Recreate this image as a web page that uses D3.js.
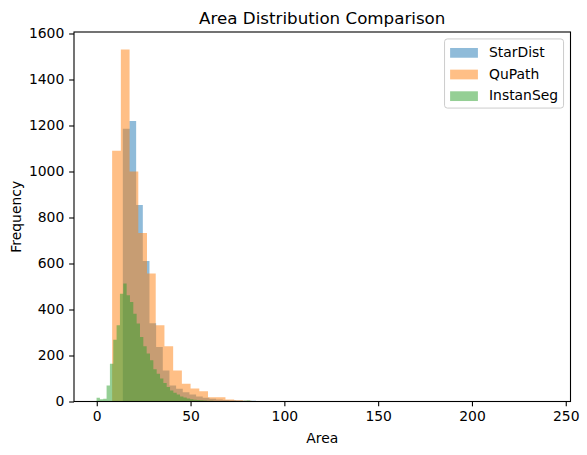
<!DOCTYPE html>
<html>
<head>
<meta charset="utf-8">
<script src="https://cdn.jsdelivr.net/npm/d3@7"></script>
<style>
  body { margin: 0; background: #fff; }
  svg { font-family: "DejaVu Sans", sans-serif; }
</style>
</head>
<body>
<svg width="587" height="455"></svg>
<script>
// series names, in the order they were drawn
let seriesNames = ["StarDist", "QuPath", "InstanSeg"];

// [min, max] of the area values for each series (50 bins each)
let starDistRange = [13.9, 191.4];
let quPathRange = [8.2, 240.5];
let instanSegRange = [-0.1, 88.9];

// bin counts
let starDistCounts = [
  1186, 1220, 854, 611, 340, 237, 135, 70, 55, 40,
  30, 22, 16, 12, 9, 7, 5, 4, 3, 3,
  2, 2, 1, 1, 1, 1, 0, 1, 0, 0,
  1, 1, 0, 1, 0, 0, 0, 0, 0, 0,
  0, 0, 0, 0, 0, 0, 0, 1, 0, 1
];
let quPathCounts = [
  1090, 1530, 1000, 733, 557, 331, 240, 135, 77, 57,
  45, 18, 18, 9, 5, 3, 2, 2, 1, 1,
  1, 1, 2, 2, 1, 0, 0, 1, 0, 1,
  1, 0, 0, 1, 0, 0, 0, 0, 0, 0,
  0, 0, 0, 1, 0, 1, 0, 0, 0, 1
];
let instanSegCounts = [
  16, 10, 12, 70, 164, 269, 331, 469, 513, 462,
  433, 382, 339, 280, 240, 209, 179, 140, 121, 100,
  80, 63, 48, 38, 30, 22, 17, 13, 10, 8,
  6, 5, 4, 3, 3, 2, 2, 2, 1, 1,
  1, 1, 1, 2, 3, 4, 2, 1, 0, 1
];

let xTicks = [0, 50, 100, 150, 200, 250];
let yTicks = [0, 200, 400, 600, 800, 1000, 1200, 1400, 1600];

let colors = ["#1f77b4", "#ff7f0e", "#2ca02c"];

let series = [
  { name: seriesNames[0], range: starDistRange, counts: starDistCounts },
  { name: seriesNames[1], range: quPathRange, counts: quPathCounts },
  { name: seriesNames[2], range: instanSegRange, counts: instanSegCounts }
];

// turn each range + counts into step points like plt.hist bins
series.forEach(function(s) {
  let n = s.counts.length;
  let step = (s.range[1] - s.range[0]) / n;
  s.steps = s.counts.map(function(c, i) {
    return { x: s.range[0] + i * step, count: c };
  });
  // closing point at the right edge of the last bin
  s.steps.push({ x: s.range[1], count: s.counts[n - 1] });
});

let svg = d3.select("svg");

let margin = { top: 32, left: 74 };
let plotWidth = 496.5;
let plotHeight = 369.5;

// matplotlib style 5% padding on x, 5% headroom on y
let xMin = d3.min(series, function(s) { return s.range[0]; });
let xMax = d3.max(series, function(s) { return s.range[1]; });
let xPad = (xMax - xMin) * 0.05;
let yMax = d3.max(series, function(s) { return d3.max(s.counts); }) * 1.05;

let xScale = d3.scaleLinear()
  .domain([xMin - xPad, xMax + xPad])
  .range([0, plotWidth]);

let yScale = d3.scaleLinear()
  .domain([0, yMax])
  .range([plotHeight, 0]);

let plot = svg.append("g")
  .attr("transform", "translate(" + margin.left + "," + margin.top + ")");

// one filled step shape per series, so adjacent bars have no seams
let area = d3.area()
  .curve(d3.curveStepAfter)
  .x(function(d) { return xScale(d.x); })
  .y0(plotHeight)
  .y1(function(d) { return yScale(d.count); });

plot.selectAll("path.hist")
  .data(series)
  .enter().append("path")
  .attr("class", "hist")
  .attr("d", function(d) { return area(d.steps); })
  .attr("fill", function(d, i) { return colors[i]; })
  .attr("fill-opacity", 0.5);

// axes
let tickLen = 4.86;
let xAxis = d3.axisBottom(xScale)
  .tickValues(xTicks)
  .tickSize(tickLen)
  .tickSizeOuter(0)
  .tickPadding(4.86)
  .tickFormat(d3.format("d"));
let yAxis = d3.axisLeft(yScale)
  .tickValues(yTicks)
  .tickSize(tickLen)
  .tickSizeOuter(0)
  .tickPadding(4.86)
  .tickFormat(d3.format("d"));

let xGroup = plot.append("g")
  .attr("transform", "translate(0," + plotHeight + ")")
  .call(xAxis);
let yGroup = plot.append("g").call(yAxis);

[xGroup, yGroup].forEach(function(g) {
  g.select(".domain").remove();
  g.selectAll(".tick line").attr("stroke", "#000").attr("stroke-width", 1.1);
  g.selectAll(".tick text")
    .attr("fill", "#000")
    .style("font-family", "DejaVu Sans")
    .style("font-size", "13.9px");
});

// spines
plot.append("rect")
  .attr("width", plotWidth)
  .attr("height", plotHeight)
  .attr("fill", "none")
  .attr("stroke", "#000")
  .attr("stroke-width", 1.1);

// title and labels
svg.append("text")
  .attr("x", margin.left + plotWidth / 2)
  .attr("y", margin.top - 8.3)
  .attr("text-anchor", "middle")
  .style("font-size", "16.7px")
  .text("Area Distribution Comparison");

svg.append("text")
  .attr("x", margin.left + plotWidth / 2)
  .attr("y", 443)
  .attr("text-anchor", "middle")
  .style("font-size", "13.9px")
  .text("Area");

svg.append("text")
  .attr("transform", "translate(21," + (margin.top + plotHeight / 2) + ") rotate(-90)")
  .attr("text-anchor", "middle")
  .style("font-size", "13.9px")
  .text("Frequency");

// legend, upper right
let fs = 13.9;
let legW = 119;
let rowH = 14.7;
let legH = 2 * 0.4 * fs + 3 * rowH + 2 * 0.5 * fs;
let legX = plotWidth - 0.5 * fs - legW;
let legY = 0.5 * fs;

let legend = plot.append("g")
  .attr("transform", "translate(" + legX + "," + legY + ")");

legend.append("rect")
  .attr("width", legW)
  .attr("height", legH)
  .attr("rx", 2.8)
  .attr("fill", "#fff")
  .attr("fill-opacity", 0.8)
  .attr("stroke", "#cccccc")
  .attr("stroke-width", 1);

let rows = legend.selectAll("g.row")
  .data(series)
  .enter().append("g")
  .attr("class", "row")
  .attr("transform", function(d, i) {
    return "translate(" + (0.4 * fs) + "," + (0.4 * fs + i * (rowH + 0.5 * fs) + rowH / 2) + ")";
  });

rows.append("rect")
  .attr("x", 0)
  .attr("y", -0.35 * fs + 1)
  .attr("width", 2 * fs)
  .attr("height", 0.7 * fs)
  .attr("fill", function(d, i) { return colors[i]; })
  .attr("opacity", 0.5);

rows.append("text")
  .attr("x", 2.8 * fs)
  .attr("y", 0)
  .attr("dy", "0.38em")
  .style("font-size", fs + "px")
  .text(function(d) { return d.name; });
</script>
</body>
</html>
